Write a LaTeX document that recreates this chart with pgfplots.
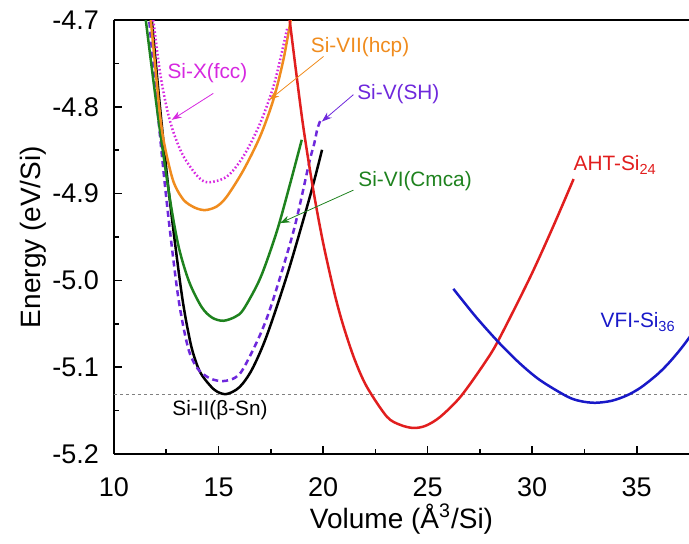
\documentclass[border=0pt]{standalone}
\usepackage{fontspec}
\setmainfont{Liberation Sans}
\usepackage{pgfplots}
\pgfplotsset{compat=1.18}
\usetikzlibrary{arrows.meta}
\definecolor{cMag}{RGB}{214,40,224}
\definecolor{cOra}{RGB}{240,140,30}
\definecolor{cPur}{RGB}{110,40,220}
\definecolor{cGre}{RGB}{30,130,30}
\definecolor{cRed}{RGB}{225,30,30}
\definecolor{cBlu}{RGB}{25,25,200}
\begin{document}
\begin{tikzpicture}
\begin{axis}[
  name=ax, at={(0,0)}, anchor=south west,
  scale only axis, width=287.5pt, height=217pt,
  xmin=10, xmax=37.5, ymin=-5.2, ymax=-4.7,
  xtick={10,15,20,25,30,35},
  ytick={-5.2,-5.1,-5.0,-4.9,-4.8,-4.7},
  minor x tick num=1, minor y tick num=1,
  tick align=inside, major tick length=4pt, minor tick length=2.5pt,
  axis x line*=box, axis y line*=left,
  xtick pos=left, ytick pos=left,
  axis line style={line width=1pt, black},
  every tick/.style={line width=0.8pt, black},
  xlabel={Volume (Å\textsuperscript{3}/Si)},
  ylabel={Energy (eV/Si)},
  label style={font=\fontsize{14}{16}\selectfont},
  tick label style={font=\fontsize{13.5}{16}\selectfont},
  xticklabel style={yshift=-8.5pt},
  xlabel style={yshift=3.5pt},
  yticklabel style={xshift=-4pt},
  ylabel style={yshift=-4pt},
  /pgf/number format/assume math mode=true,
  yticklabel style={/pgf/number format/.cd, fixed, fixed zerofill, precision=1},
  clip=true,
  every axis plot/.append style={line width=1.25pt},
]
% reference line
\addplot[gray, line width=0.5pt, dash pattern=on 1.5pt off 1.5pt] coordinates {(10,-5.131) (37.5,-5.131)};
% Si-II (beta-Sn)
\addplot[black, smooth] coordinates {(11.80,-4.697)(12.2,-4.8005)(12.65,-4.904)(13.24,-5.016)(13.64,-5.070)(13.92,-5.094)(14.2,-5.109)(14.8,-5.126)(15.36,-5.131)(16.0,-5.123)(16.6,-5.1026)(17.3,-5.0641)(18.3,-4.9921)(19.38,-4.9025)(19.95,-4.8495)};
% Si-V (SH)
\addplot[cPur, smooth, dash pattern=on 3pt off 2pt] coordinates {(11.69,-4.702)(12.1,-4.8086)(12.52,-4.9094)(13.06,-5.0174)(13.54,-5.0774)(14.0,-5.1017)(14.6,-5.1130)(15.22,-5.116)(15.8,-5.112)(16.2,-5.101)(17.0,-5.062)(17.6,-5.023)(18.6,-4.942)(19.33,-4.865)(19.58,-4.842)(19.72,-4.826)(19.88,-4.815)};
% Si-VI (Cmca)
\addplot[cGre, smooth] coordinates {(11.52,-4.70)(12.1,-4.81)(12.68,-4.907)(13.1,-4.962)(13.6,-5.002)(14.2,-5.031)(14.7,-5.043)(15.23,-5.0465)(15.8,-5.0419)(16.2,-5.0331)(17.0,-4.9971)(17.78,-4.9441)(18.4,-4.8907)(18.98,-4.838)};
% Si-VII (hcp)
\addplot[cOra, smooth] coordinates {(11.76,-4.70)(12.2,-4.809)(12.44,-4.847)(12.84,-4.886)(13.32,-4.907)(13.85,-4.916)(14.35,-4.919)(14.9,-4.915)(15.39,-4.9036)(16.19,-4.873)(16.99,-4.834)(17.62,-4.792)(18.10,-4.746)(18.45,-4.70)};
% Si-X (fcc)
\addplot[cMag, smooth, dash pattern=on 0.8pt off 1.1pt] coordinates {(11.88,-4.70)(12.2,-4.76)(12.52,-4.801)(12.84,-4.829)(13.30,-4.856)(13.96,-4.879)(14.47,-4.887)(15.39,-4.8805)(16.19,-4.857)(16.99,-4.819)(17.62,-4.777)(18.0,-4.74)(18.28,-4.71)};
% AHT-Si24
\addplot[cRed, smooth] coordinates {(18.40,-4.70)(19.0,-4.814)(19.5,-4.8915)(20.0,-4.9565)(20.55,-5.0154)(20.97,-5.0524)(21.5,-5.0906)(22.09,-5.1225)(23.05,-5.157)(23.7,-5.1665)(24.32,-5.170)(24.9,-5.1675)(25.6,-5.1572)(26.6,-5.1332)(27.83,-5.0914)(28.45,-5.066)(29.9,-4.9964)(31.0,-4.9381)(31.98,-4.8832)};
% VFI-Si36
\addplot[cBlu, smooth] coordinates {(26.23,-5.0097)(27.3,-5.0418)(28.39,-5.0712)(29.4,-5.0954)(30.38,-5.115)(31.66,-5.1336)(32.3,-5.139)(33.01,-5.141)(33.8,-5.1387)(34.53,-5.1325)(35.2,-5.1233)(35.97,-5.1086)(36.5,-5.096)(37.08,-5.0797)(37.6,-5.063)};
% annotations
\begin{scope}[every node/.style={font=\fontsize{10.4}{12}\selectfont, inner sep=0pt}]
\node[text=cMag] at (axis cs:14.47,-4.761) {Si-X(fcc)};
\draw[cMag, line width=0.4pt, -{Stealth[length=5pt,width=3.5pt]}] (axis cs:14.75,-4.7845) -- (axis cs:12.76,-4.815);
\node[text=cOra] at (axis cs:21.77,-4.731) {Si-VII(hcp)};
\draw[cOra, line width=0.4pt, -{Stealth[length=5pt,width=3.5pt]}] (axis cs:20.02,-4.742) -- (axis cs:17.43,-4.792);
\node[text=cPur] at (axis cs:23.6,-4.785) {Si-V(SH)};
\draw[cPur, line width=0.4pt, -{Stealth[length=5pt,width=3.5pt]}] (axis cs:21.45,-4.786) -- (axis cs:19.94,-4.817);
\node[text=cGre] at (axis cs:24.40,-4.886) {Si-VI(Cmca)};
\draw[cGre, line width=0.4pt, -{Stealth[length=5pt,width=3.5pt]}] (axis cs:21.45,-4.896) -- (axis cs:17.94,-4.934);
\node[text=cRed] at (axis cs:33.97,-4.867) {AHT-Si\textsubscript{24}};
\node[text=cBlu] at (axis cs:35.07,-5.048) {VFI-Si\textsubscript{36}};
\node[text=black] at (axis cs:15.07,-5.149) {Si-II(β-Sn)};
\end{scope}
\end{axis}
\pgfresetboundingbox
\path[use as bounding box] (-57pt,-44.5pt) rectangle (287.5pt,227pt);
\end{tikzpicture}
\end{document}
